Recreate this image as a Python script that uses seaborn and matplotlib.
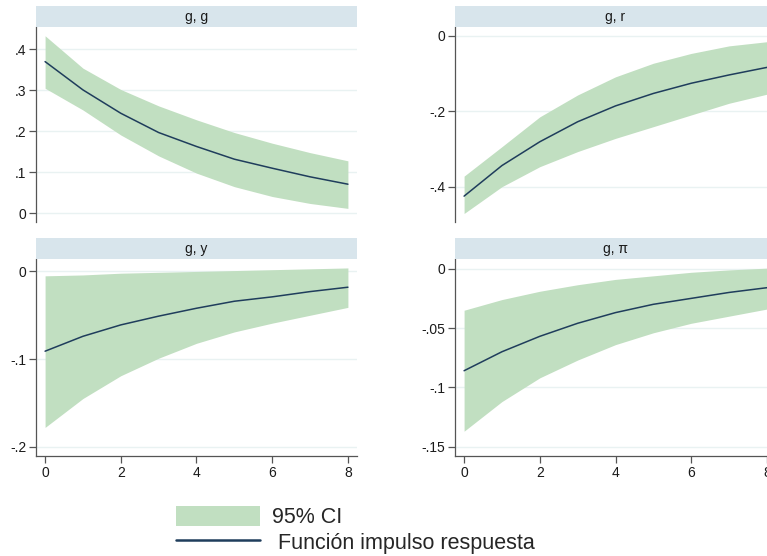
import numpy as np
import pandas as pd
import matplotlib
matplotlib.use("Agg")
import matplotlib.pyplot as plt
import seaborn as sns
from matplotlib.patches import Patch
from matplotlib.lines import Line2D
from matplotlib.ticker import FuncFormatter

sns.set_theme(style="white")
plt.rcParams['font.family'] = ['Liberation Sans', 'DejaVu Sans']

steps = [0, 1, 2, 3, 4, 5, 6, 7, 8]
panel_titles = ["g, g", "g, r", "g, y", "g, π"]

irf_gg = [0.370, 0.301, 0.244, 0.197, 0.163, 0.132, 0.110, 0.089, 0.071]
hi_gg = [0.433, 0.354, 0.302, 0.262, 0.228, 0.197, 0.171, 0.148, 0.128]
lo_gg = [0.305, 0.252, 0.191, 0.140, 0.098, 0.065, 0.041, 0.024, 0.012]

irf_gr = [-0.425, -0.344, -0.281, -0.228, -0.186, -0.153, -0.126, -0.104, -0.084]
hi_gr = [-0.372, -0.294, -0.215, -0.157, -0.109, -0.073, -0.047, -0.027, -0.016]
lo_gr = [-0.471, -0.400, -0.347, -0.307, -0.272, -0.241, -0.210, -0.179, -0.155]

irf_gy = [-0.091, -0.074, -0.061, -0.051, -0.042, -0.034, -0.029, -0.023, -0.018]
hi_gy = [-0.005, -0.004, -0.002, -0.001, 0.000, 0.001, 0.002, 0.003, 0.004]
lo_gy = [-0.178, -0.145, -0.119, -0.099, -0.082, -0.069, -0.059, -0.050, -0.041]

irf_gp = [-0.086, -0.070, -0.057, -0.046, -0.037, -0.030, -0.025, -0.020, -0.016]
hi_gp = [-0.035, -0.026, -0.019, -0.0135, -0.009, -0.006, -0.003, -0.001, 0.0005]
lo_gp = [-0.137, -0.112, -0.092, -0.077, -0.064, -0.054, -0.046, -0.040, -0.034]

yticks_gg = [0, 0.1, 0.2, 0.3, 0.4]
yticks_gr = [-0.4, -0.2, 0]
yticks_gy = [-0.2, -0.1, 0]
yticks_gp = [-0.15, -0.1, -0.05, 0]
xticks = [0, 2, 4, 6, 8]

W, H = 767, 556
fig = plt.figure(figsize=(W / 100, H / 100), dpi=100)

FILL = "#c1dfc1"
LINE = "#1f3d5c"
STRIP = "#d8e5ec"
AX = "#555555"
GRID = "#e9f2f2"
TXT = "#1a1a1a"

def stata_fmt(v, pos):
    if abs(v) < 1e-12:
        return "0"
    s = ("%g" % v)
    s = s.replace("0.", ".")
    return s

panels = [
    (panel_titles[0], irf_gg, lo_gg, hi_gg, yticks_gg, (-0.0212, 0.4544), 36, 357, 27, 222, False),
    (panel_titles[1], irf_gr, lo_gr, hi_gr, yticks_gr, (-0.4935, 0.023), 455, 776, 27, 222, False),
    (panel_titles[2], irf_gy, lo_gy, hi_gy, yticks_gy, (-0.2106, 0.0142), 36, 357, 259, 456, True),
    (panel_titles[3], irf_gp, lo_gp, hi_gp, yticks_gp, (-0.1579, 0.0082), 455, 776, 259, 456, True),
]

for title, irf, lo, hi, yt, ylim, l, r, t, b, showx in panels:
    ax = fig.add_axes([l / W, 1 - b / H, (r - l) / W, (b - t) / H])
    df = pd.DataFrame({"step": steps, "irf": irf, "lo": lo, "hi": hi})
    ax.fill_between(df["step"], df["lo"], df["hi"], color=FILL, linewidth=0, zorder=2)
    sns.lineplot(data=df, x="step", y="irf", ax=ax, color=LINE, linewidth=1.1, zorder=3)
    ax.set_xlim(-0.24, 8.24)
    ax.set_ylim(*ylim)
    ax.set_yticks(yt)
    ax.yaxis.set_major_formatter(FuncFormatter(stata_fmt))
    for y in yt:
        ax.axhline(y, color=GRID, linewidth=1.0, zorder=1)
    ax.set_xlabel("")
    ax.set_ylabel("")
    for s in ["top", "right"]:
        ax.spines[s].set_visible(False)
    ax.spines["left"].set_color(AX)
    ax.spines["left"].set_linewidth(0.9)
    ax.tick_params(axis="y", which="both", left=True, length=5, width=0.9, color=AX,
                   labelsize=10, labelcolor=TXT, pad=2)
    if showx:
        ax.set_xticks(xticks)
        ax.spines["bottom"].set_color(AX)
        ax.spines["bottom"].set_linewidth(0.9)
        ax.tick_params(axis="x", bottom=True, length=5, width=0.9, color=AX,
                       labelsize=10, labelcolor=TXT, pad=2)
    else:
        ax.spines["bottom"].set_visible(False)
        ax.set_xticks([])
    ax.grid(False)
    sax = fig.add_axes([l / W, 1 - t / H, (r - l) / W, 21 / H])
    sax.set_facecolor(STRIP)
    for s in sax.spines.values():
        s.set_visible(False)
    sax.set_xticks([])
    sax.set_yticks([])
    sax.text(0.5, 0.5, title, ha="center", va="center", fontsize=10, color=TXT,
             transform=sax.transAxes)

handles = [Patch(facecolor=FILL, edgecolor="none"),
           Line2D([0], [0], color=LINE, linewidth=1.8)]
labels = ["95% CI", " Función impulso respuesta"]
fig.legend(handles, labels, loc="center left", bbox_to_anchor=(159 / W, 1 - 530 / H),
           frameon=False, fontsize=15.5, handlelength=3.9, handleheight=1.0,
           labelspacing=0.15, handletextpad=0.55, borderpad=0.3)

fig.savefig("out.png", dpi=100)
